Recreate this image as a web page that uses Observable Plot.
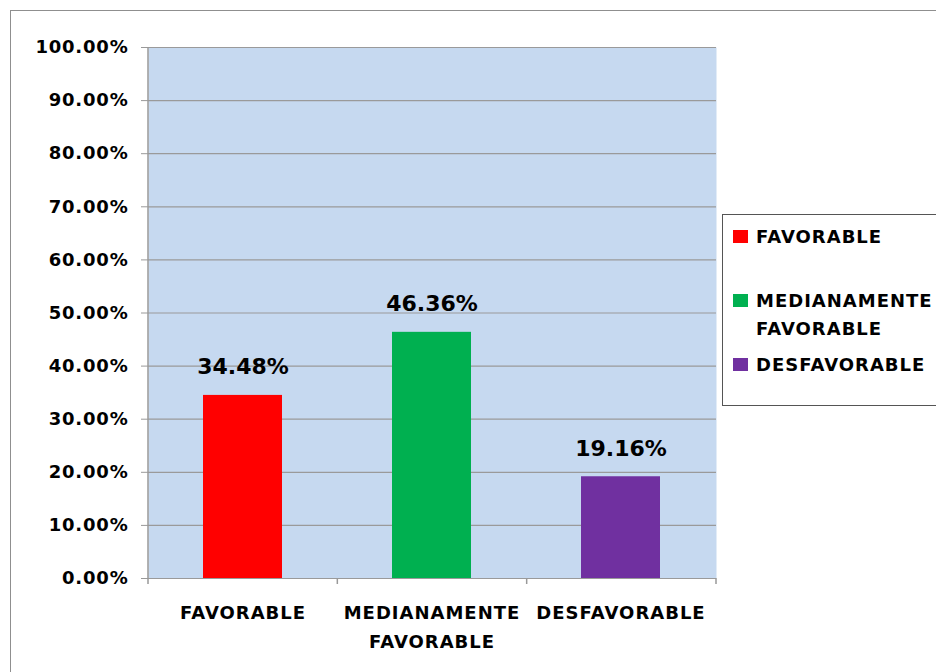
<!DOCTYPE html>
<html><head><meta charset="utf-8">
<script src="https://cdn.jsdelivr.net/npm/d3@7"></script>
<script src="https://cdn.jsdelivr.net/npm/@observablehq/plot@0.6"></script>
<style>
body{margin:0;background:#fff;overflow:hidden;width:936px;height:672px;position:relative;font-family:"DejaVu Sans",sans-serif;}
#border{position:absolute;left:10px;top:10px;width:960px;height:700px;border:1.5px solid #8f8f8f;}
#chart{position:absolute;left:0;top:0;}
#chart g[aria-label="x-axis tick label"] text{letter-spacing:1px;}
#chart g[aria-label="y-axis tick label"] text{letter-spacing:0.8px;}
#legend{position:absolute;left:722px;top:214px;width:240px;height:192px;border:1.5px solid #555;background:#fff;box-sizing:border-box;}
.item{position:absolute;left:10px;font-weight:bold;font-size:18px;letter-spacing:1px;color:#000;line-height:28px;}
.sw{position:absolute;left:0;width:15px;height:13px;}
.lbl{position:absolute;left:23px;white-space:nowrap;}
</style>
</head><body>
<div id="border"></div>
<div id="chart"></div>
<div id="legend"></div>
<script>
const categories = ["FAVORABLE", "MEDIANAMENTE FAVORABLE", "DESFAVORABLE"];
const tickLabels = ["FAVORABLE", "MEDIANAMENTE\nFAVORABLE", "DESFAVORABLE"];
const values = [0.3448, 0.4636, 0.1916];
const colors = ["#FF0000", "#00B050", "#7030A0"];
const yTicks = [0, 0.1, 0.2, 0.3, 0.4, 0.5, 0.6, 0.7, 0.8, 0.9, 1.0];
const legendLabels = ["FAVORABLE", "MEDIANAMENTE<br>FAVORABLE", "DESFAVORABLE"];

const data = categories.map((c, i) => ({cat: c, value: values[i], color: colors[i]}));
const fmt = d3.format(".2%");

function frameLines(index, scales, values, dims) {
  const g = d3.create("svg:g");
  const x0 = dims.marginLeft, x1 = dims.width - dims.marginRight;
  const y0 = dims.height - dims.marginBottom, yT = dims.marginTop;
  const step = (x1 - x0) / categories.length;
  g.append("line").attr("x1", x0).attr("x2", x0).attr("y1", yT).attr("y2", y0)
    .attr("stroke", "#999").attr("stroke-width", 1.5);
  for (let i = 0; i <= categories.length; i++) {
    const xx = x0 + i * step;
    g.append("line").attr("x1", xx).attr("x2", xx).attr("y1", y0).attr("y2", y0 + 6)
      .attr("stroke", "#999").attr("stroke-width", 1.5);
  }
  return g.node();
}

const plot = Plot.plot({
  width: 936,
  height: 672,
  marginTop: 47,
  marginBottom: 94,
  marginLeft: 148,
  marginRight: 220,
  style: {fontFamily: "DejaVu Sans, sans-serif", fontWeight: "bold", color: "#000", background: "transparent"},
  x: {domain: categories, paddingInner: 0.58, paddingOuter: 0.29},
  y: {domain: [0, 1]},
  marks: [
    Plot.frame({fill: "#C6D9F0", stroke: null}),
    Plot.ruleY(yTicks, {stroke: "#9a9a9a", strokeWidth: 1.2}),
    Plot.barY(data, {x: "cat", y: "value", fill: "color"}),
    Plot.text(data, {x: "cat", y: "value", text: d => fmt(d.value), dy: -21, lineAnchor: "bottom", fontSize: 22, fontWeight: "bold", fill: "#000"}),
    Plot.axisY({ticks: yTicks, tickFormat: fmt, tickSize: 7, tickPadding: 13, fontSize: 18, stroke: "#999", fill: "#000", label: null}),
    Plot.axisX({tickSize: 0, tickPadding: 20, fontSize: 18, lineHeight: 1.6, tickFormat: d => tickLabels[categories.indexOf(d)], fill: "#000", label: null}),
    frameLines
  ]
});
document.getElementById("chart").appendChild(plot);

const legend = document.getElementById("legend");
const tops = [8, 72, 136];
legendLabels.forEach((l, i) => {
  const it = document.createElement("div");
  it.className = "item";
  it.style.top = tops[i] + "px";
  it.innerHTML = `<div class="sw" style="background:${colors[i]};top:7px"></div><div class="lbl">${l}</div>`;
  legend.appendChild(it);
});
</script>
</body></html>
